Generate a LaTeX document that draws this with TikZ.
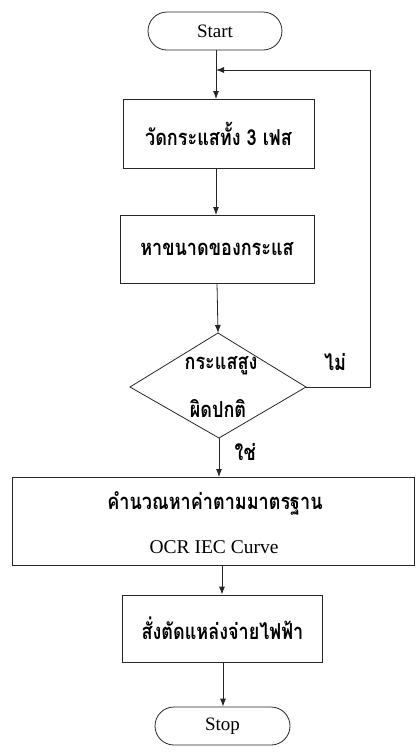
\documentclass[tikz,border=0pt]{standalone}
\usepackage{fontspec}
\setmainfont{Liberation Serif}
\newfontfamily\thaifont[Script=Thai,FakeStretch=0.82]{Loma}
\usetikzlibrary{arrows.meta,shapes.misc,shapes.geometric}
\begin{document}
\begin{tikzpicture}[x=1pt,y=-1pt,
  line width=0.8pt,
  flow/.style={draw=black!85, -{Latex[length=8pt,width=6pt]}},
  terminal/.style={draw=black!85, rounded rectangle, inner sep=0pt, font=\fontsize{19}{21}\selectfont},
  process/.style={draw=black!85, rectangle, inner sep=0pt},
  thai/.style={font=\thaifont\bfseries\fontsize{22}{24}\selectfont}
]
\useasboundingbox (0,0) rectangle (420,756);

\node[terminal, minimum width=134pt, minimum height=38pt] (start) at (215,31) {Start};
\node[process, thai, minimum width=191pt, minimum height=69pt] (measure) at (218.5,133.5) {วัดกระแสทั้ง 3 เฟส};
\node[process, thai, minimum width=194pt, minimum height=68pt] (magnitude) at (217,249) {หาขนาดของกระแส};

% decision diamond drawn as a path so its corners sit exactly where wanted
\coordinate (dtop) at (218,333);
\coordinate (dright) at (306,387);
\coordinate (dbottom) at (219,438);
\coordinate (dleft) at (130,387);
\draw[draw=black!85] (dtop) -- (dright) -- (dbottom) -- (dleft) -- cycle;
\node[thai] (dline1) at (221,366) {กระแสสูง};
\node[thai] (dline2) at (218,408) {ผิดปกติ};

\node[process, minimum width=402pt, minimum height=88pt] (calc) at (213,521) {};
\node[thai] (cline1) at (215,503) {คำนวณหาค่าตามมาตรฐาน};
\node[font=\fontsize{19.5}{21}\selectfont] (cline2) at (214,547) {OCR IEC Curve};

\node[process, thai, minimum width=200pt, minimum height=67pt] (trip) at (222.5,628.5) {สั่งตัดแหล่งจ่ายไฟฟ้า};
\node[terminal, minimum width=135pt, minimum height=38pt] (stop) at (222.5,726) {Stop};

% main flow
\draw[flow] (start.south -| 216,0) -- (216,99);
\draw[flow] (216,168) -- (216,215);
\draw[flow] (217,283) -- (dtop);
\draw[flow] (dbottom) -- (219,477) node[pos=0.35, right=12pt, thai] (yes) {ใช่};
\draw[flow] (calc.south -| 222,0) -- (trip.north -| 222,0);
\draw[flow] (trip.south -| 223,0) -- (stop.north -| 223,0);

% loop back when current is normal
\coordinate (loopcorner) at (370,387);
\coordinate (loopjoin) at (216,70);
\draw[flow] (dright) -- (loopcorner) -- (loopcorner |- loopjoin) -- (loopjoin);
\node[thai] (no) at (335,362) {ไม่};
\end{tikzpicture}
\end{document}
